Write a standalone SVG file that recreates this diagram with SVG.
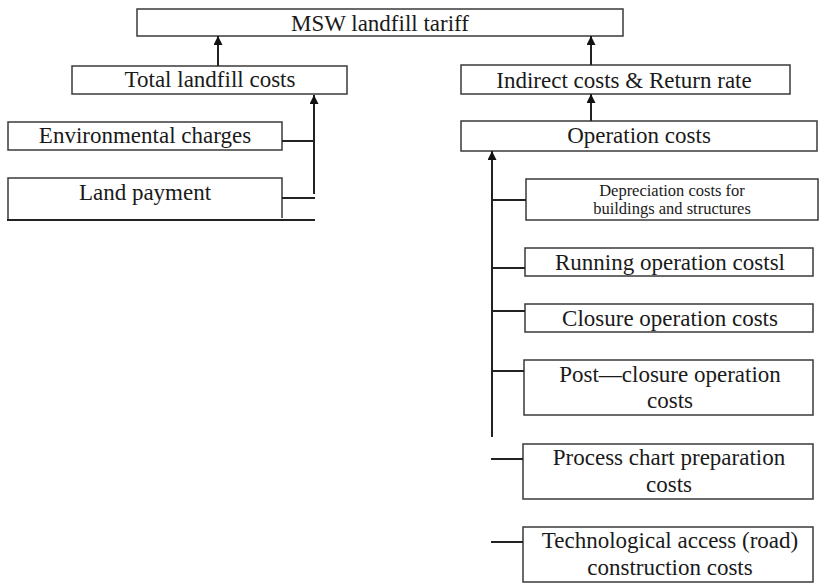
<svg xmlns="http://www.w3.org/2000/svg" width="820" height="583" viewBox="0 0 820 583">
<defs>
<style>
.box{fill:#fff;stroke:#3a3a3a;stroke-width:1.5}
.t{font-size:23px;fill:#1a1a1a;text-anchor:middle}
.s{font-size:16.5px}
.c{fill:none;stroke:#222;stroke-width:2}
</style>
<marker id="ah" viewBox="0 0 10 10" refX="10" refY="5" markerWidth="4.5" markerHeight="4.5" orient="auto" markerUnits="strokeWidth">
<path d="M0,0 L10,5 L0,10 z" fill="#111"/>
</marker>
</defs>
<rect width="820" height="583" fill="#fff"/>
<g font-family="Liberation Serif, Times New Roman, serif">
<g id="n-tariff"><rect class="box" x="137" y="9" width="486" height="27"/><text class="t" x="380" y="31">MSW landfill tariff</text></g>
<g id="n-total"><rect class="box" x="72" y="66" width="275" height="28"/><text class="t" x="210" y="87">Total landfill costs</text></g>
<g id="n-env"><rect class="box" x="8" y="122" width="274" height="28"/><text class="t" x="145" y="143">Environmental charges</text></g>
<g id="n-land"><path class="box" d="M282,218 V178 H8 V220"/><line x1="7" y1="220" x2="315" y2="220" stroke="#222" stroke-width="2"/><text class="t" x="145" y="200">Land payment</text></g>
<g id="n-indirect"><rect class="box" x="461" y="65" width="329" height="29"/><text class="t" x="624" y="88">Indirect costs &amp; Return rate</text></g>
<g id="n-operation"><rect class="box" x="461" y="121" width="356" height="30"/><text class="t" x="639" y="143">Operation costs</text></g>
<g id="n-depr"><rect class="box" x="526" y="179" width="292" height="41"/><text class="t s" x="672" y="196">Depreciation costs for</text><text class="t s" x="672" y="214">buildings and structures</text></g>
<g id="n-running"><rect class="box" x="525" y="248" width="288" height="28"/><text class="t" x="670" y="270">Running operation costsl</text></g>
<g id="n-closure"><rect class="box" x="525" y="304" width="288" height="28"/><text class="t" x="670" y="326">Closure operation costs</text></g>
<g id="n-post"><rect class="box" x="524" y="360" width="289" height="55"/><text class="t" x="670" y="382">Post—closure operation</text><text class="t" x="670" y="408">costs</text></g>
<g id="n-process"><rect class="box" x="523" y="444" width="290" height="55"/><text class="t" x="669" y="465">Process chart preparation</text><text class="t" x="669" y="492">costs</text></g>
<g id="n-road"><rect class="box" x="523" y="527" width="290" height="55"/><text class="t" x="670" y="548">Technological access (road)</text><text class="t" x="670" y="575">construction costs</text></g>
</g>
<g id="connectors">
<line class="c" x1="218" y1="66" x2="218" y2="36" marker-end="url(#ah)"/>
<line class="c" x1="591" y1="65" x2="591" y2="36" marker-end="url(#ah)"/>
<line class="c" x1="591" y1="121" x2="591" y2="94" marker-end="url(#ah)"/>
<line class="c" x1="314" y1="194" x2="314" y2="95" marker-end="url(#ah)"/>
<line class="c" x1="282" y1="141" x2="315" y2="141"/>
<line class="c" x1="282" y1="198" x2="315" y2="198"/>
<line class="c" x1="492" y1="437" x2="492" y2="151" marker-end="url(#ah)"/>
<line class="c" x1="491" y1="200" x2="526" y2="200"/>
<line class="c" x1="491" y1="268" x2="525" y2="268"/>
<line class="c" x1="491" y1="311" x2="525" y2="311"/>
<line class="c" x1="491" y1="371" x2="524" y2="371"/>
<line class="c" x1="491" y1="459" x2="523" y2="459"/>
<line class="c" x1="491" y1="542" x2="523" y2="542"/>
</g>
</svg>
